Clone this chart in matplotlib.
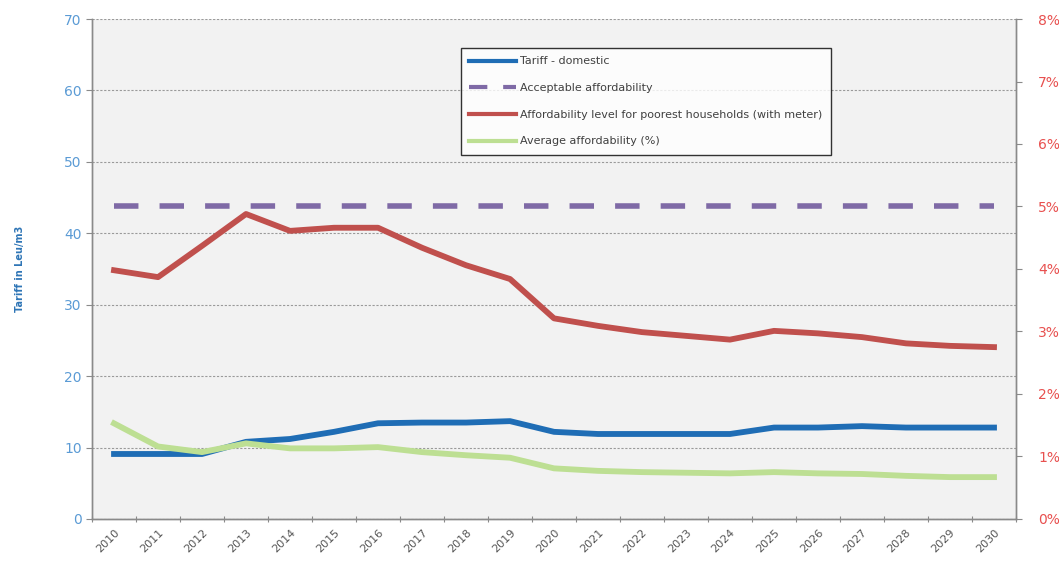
import matplotlib.pyplot as plt
from matplotlib.ticker import FuncFormatter, FixedLocator

years = [str(y) for y in range(2010, 2031)]

# tariff for domestic users, Leu/m3 (left axis)
tariff_domestic = [9.1, 9.1, 9.1, 10.8, 11.2, 12.2, 13.4, 13.5, 13.5, 13.7, 12.2,
                   11.9, 11.9, 11.9, 11.9, 12.8, 12.8, 13.0, 12.8, 12.8, 12.8]

# affordability figures in percent (right axis)
acceptable_affordability = [5.0] * 21
poorest_affordability = [3.98, 3.87, 4.37, 4.88, 4.61, 4.66, 4.66, 4.34, 4.06, 3.84, 3.21,
                         3.09, 2.99, 2.93, 2.87, 3.01, 2.97, 2.91, 2.81, 2.77, 2.75]
average_affordability = [1.53, 1.16, 1.07, 1.21, 1.13, 1.13, 1.15, 1.07, 1.02, 0.98, 0.81,
                         0.77, 0.75, 0.74, 0.73, 0.75, 0.73, 0.72, 0.69, 0.67, 0.67]

BLUE = "#1f6db5"
PURPLE = "#7f6aa6"
RED = "#c0504d"
GREEN = "#bddf93"

fig = plt.figure(figsize=(10.59, 5.69), dpi=100)
ax = fig.add_axes([0.0869, 0.0879, 0.8725, 0.8787])
ax.set_facecolor("#f2f2f2")
ax2 = ax.twinx()

x = list(range(len(years)))

h_green, = ax2.plot(x, average_affordability, color=GREEN, lw=4.2,
                    solid_joinstyle="round", label="Average affordability (%)", zorder=2)
h_blue, = ax.plot(x, tariff_domestic, color=BLUE, lw=4.2,
                  solid_joinstyle="round", label="Tariff - domestic", zorder=3)
h_purple, = ax2.plot(x, acceptable_affordability, color=PURPLE, lw=4.0,
                     dashes=(4.4, 3.8), label="Acceptable affordability", zorder=3)
h_red, = ax2.plot(x, poorest_affordability, color=RED, lw=4.2, solid_joinstyle="round",
                  label="Affordability level for poorest households (with meter)", zorder=3)

# left axis: tariff
ax.set_xlim(-0.5, len(years) - 0.5)
ax.set_ylim(0, 70)
ax.set_yticks(range(0, 71, 10))
ax.yaxis.grid(True, color="#9a9a9a", linestyle=(0, (2, 1.5)), lw=0.8)
ax.set_axisbelow(True)
ax.tick_params(axis="y", colors="#8a8a8a", labelcolor="#5b9bd5", labelsize=10,
               length=4, width=0.8)
ax.set_ylabel("Tariff in Leu/m3", color="#2e75b6", fontsize=7, fontweight="bold",
              labelpad=28)

# categories sit between the tick marks
ax.set_xticks(x)
ax.set_xticklabels(years, rotation=45, fontsize=8, color="#555555",
                   ha="right", rotation_mode="anchor")
ax.tick_params(axis="x", which="major", length=0, pad=6)
ax.xaxis.set_minor_locator(FixedLocator([i - 0.5 for i in range(len(years) + 1)]))
ax.tick_params(axis="x", which="minor", length=5, width=0.8, color="#8a8a8a",
               direction="inout")

# right axis: affordability in percent
ax2.set_ylim(0, 8)
ax2.set_yticks(range(0, 9))
ax2.yaxis.set_major_formatter(FuncFormatter(lambda v, _: f"{v:.0f}%"))
ax2.tick_params(axis="y", colors="#8a8a8a", labelcolor="#e8504f", labelsize=10,
                length=4, width=0.8, pad=12)

for a in (ax, ax2):
    a.spines["top"].set_visible(False)
    for side in ("left", "right", "bottom"):
        a.spines[side].set_color("#8a8a8a")
        a.spines[side].set_linewidth(1.0)

leg = ax2.legend(handles=[h_blue, h_purple, h_red, h_green],
                 loc="upper left", bbox_to_anchor=(0.393, 0.953),
                 fontsize=8, frameon=True, fancybox=False, borderpad=0.75,
                 labelspacing=1.5, handlelength=4.2, handletextpad=0.4,
                 labelcolor="#404040")
leg.get_frame().set_edgecolor("#000000")
leg.get_frame().set_linewidth(1.0)
leg.get_frame().set_facecolor("white")
for line in leg.get_lines():
    line.set_linewidth(3)

fig.savefig("out.png", dpi=100, facecolor="white")
